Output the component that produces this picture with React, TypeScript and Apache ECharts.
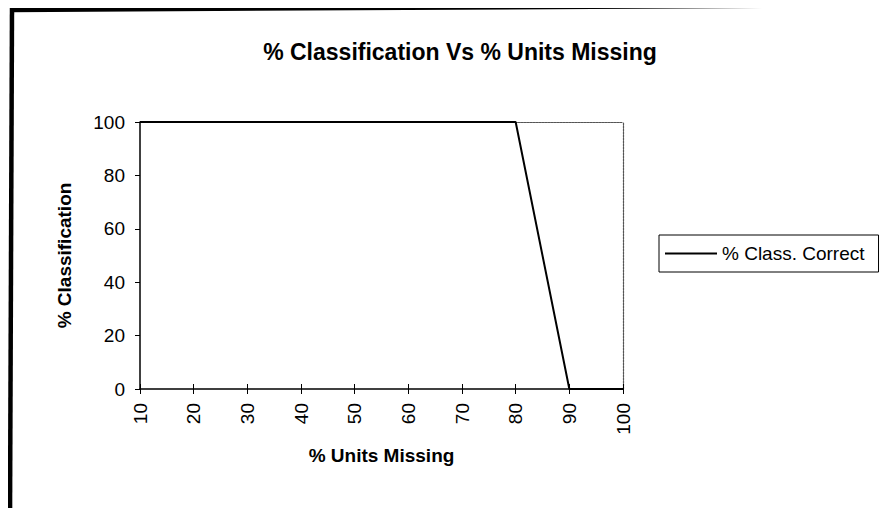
import React, { useEffect, useRef } from "react";
import * as echarts from "echarts";

const unitsMissing = [10, 80, 90, 100];
const classCorrect = [100, 100, 0, 0];
const xTicks = [10, 20, 30, 40, 50, 60, 70, 80, 90, 100];
const yTicks = [0, 20, 40, 60, 80, 100];
const titleText = "% Classification Vs % Units Missing";
const xName = "% Units Missing";
const yName = "% Classification";
const seriesName = "% Class. Correct";

const FONT = "Arial, 'Liberation Sans', sans-serif";

export default function App() {
  const ref = useRef<HTMLDivElement>(null);
  useEffect(() => {
    if (!ref.current) return;
    const chart = echarts.init(ref.current, null, { renderer: "svg" });
    const xMin = xTicks[0];
    const xMax = xTicks[xTicks.length - 1];
    const xInt = xTicks[1] - xTicks[0];
    const yMin = yTicks[0];
    const yMax = yTicks[yTicks.length - 1];
    const yInt = yTicks[1] - yTicks[0];
    const baseX = {
      type: "value" as const,
      min: xMin,
      max: xMax,
      interval: xInt,
      splitLine: { show: false },
    };
    const baseY = {
      type: "value" as const,
      min: yMin,
      max: yMax,
      interval: yInt,
      splitLine: { show: false },
    };
    chart.setOption({
      animation: false,
      backgroundColor: "#ffffff",
      textStyle: { fontFamily: FONT },
      title: {
        text: titleText,
        left: 455,
        textAlign: "center",
        top: 35,
        textStyle: { fontFamily: FONT, fontSize: 23, fontWeight: "bold", color: "#000" },
      },
      grid: { left: 140, right: 272, top: 122, bottom: 127, containLabel: false },
      legend: {
        left: 659,
        top: 235,
        orient: "vertical",
        padding: [9, 14, 9, 6],
        borderColor: "#000",
        borderWidth: 1,
        borderRadius: 0,
        icon: "rect",
        itemWidth: 52,
        itemHeight: 2,
        itemGap: 0,
        itemStyle: { color: "#000", borderWidth: 0 },
        textStyle: { fontFamily: FONT, fontSize: 19, color: "#000", padding: [0, 0, 0, 0] },
        data: [{ name: seriesName }],
      },
      xAxis: [
        {
          ...baseX,
          position: "bottom",
          name: xName,
          nameLocation: "middle",
          nameGap: 57,
          nameTextStyle: { fontFamily: FONT, fontSize: 19, fontWeight: "bold", color: "#000" },
          axisLine: { show: true, lineStyle: { color: "#000", width: 1.5 } },
          axisTick: { show: true, inside: false, length: 5, lineStyle: { color: "#000", width: 1 } },
          axisLabel: {
            show: true,
            rotate: 90,
            margin: 14,
            fontFamily: FONT,
            fontSize: 19,
            color: "#000",
          },
        },
        {
          ...baseX,
          position: "bottom",
          axisLine: { show: false },
          axisTick: { show: true, inside: true, length: 5, lineStyle: { color: "#000", width: 1 } },
          axisLabel: { show: false },
        },
        {
          ...baseX,
          position: "top",
          axisLine: { show: true, lineStyle: { color: "#555", width: 1.2, type: [2, 1] } },
          axisTick: { show: false },
          axisLabel: { show: false },
        },
      ],
      yAxis: [
        {
          ...baseY,
          position: "left",
          name: yName,
          nameLocation: "middle",
          nameGap: 66,
          nameRotate: 90,
          nameTextStyle: { fontFamily: FONT, fontSize: 19, fontWeight: "bold", color: "#000" },
          axisLine: { show: true, lineStyle: { color: "#000", width: 1.5 } },
          axisTick: { show: true, inside: false, length: 5, lineStyle: { color: "#000", width: 1 } },
          axisLabel: { show: true, margin: 15, fontFamily: FONT, fontSize: 19, color: "#000" },
        },
        {
          ...baseY,
          position: "right",
          axisLine: { show: true, lineStyle: { color: "#555", width: 1.2, type: [2, 1] } },
          axisTick: { show: false },
          axisLabel: { show: false },
        },
      ],
      series: [
        {
          name: seriesName,
          type: "line",
          xAxisIndex: 0,
          yAxisIndex: 0,
          data: unitsMissing.map((x, i) => [x, classCorrect[i]]),
          symbol: "none",
          showSymbol: false,
          clip: false,
          lineStyle: { color: "#000", width: 2 },
          itemStyle: { color: "#000" },
          z: 5,
        },
      ],
      graphic: [
        {
          type: "line",
          shape: { x1: 12, y1: 8, x2: 10, y2: 516 },
          style: { stroke: "#000", lineWidth: 4.5 },
          silent: true,
        },
        {
          type: "line",
          shape: { x1: 10, y1: 10, x2: 895, y2: 5 },
          style: { stroke: "#000", lineWidth: 4.5 },
          silent: true,
        },
        {
          type: "line",
          shape: { x1: 10, y1: 514, x2: 895, y2: 514 },
          style: { stroke: "#777", lineWidth: 1.5 },
          silent: true,
        },
      ],
    });
    return () => chart.dispose();
  }, []);
  return <div ref={ref} style={{ width: 895, height: 516, margin: -8 }} />;
}
